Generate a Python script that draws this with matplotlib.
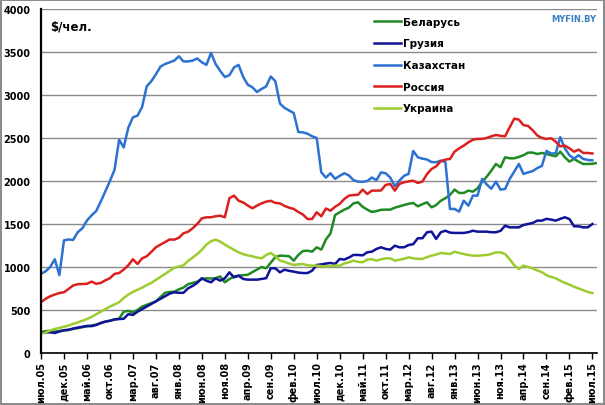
import numpy as np
import matplotlib
matplotlib.use("Agg")
from matplotlib import pyplot as plt

# x tick labels, every 5 months from Jul 2005
tick_labels = ["июл.05", "дек.05", "май.06", "окт.06", "мар.07", "авг.07", "янв.08",
               "июн.08", "ноя.08", "апр.09", "сен.09", "фев.10", "июл.10", "дек.10",
               "май.11", "окт.11", "мар.12", "авг.12", "янв.13", "июн.13", "ноя.13",
               "апр.14", "сен.14", "фев.15", "июл.15"]

# monthly average wage, $ per person
belarus = [240, 255, 258, 250, 255, 262, 268, 280, 290, 300, 310, 320, 330, 345, 365, 375,
           390, 400, 480, 490, 470, 500, 540, 560, 580, 600, 650, 700, 710, 712, 740, 760,
           800, 815, 830, 860, 868, 866, 870, 890, 822, 860, 890, 900, 905, 910, 940, 970,
           1000, 985, 1050, 1115, 1132, 1130, 1125, 1074, 1140, 1185, 1190, 1178, 1229, 1202,
           1320, 1390, 1605, 1636, 1667, 1690, 1740, 1752, 1700, 1667, 1640, 1650, 1665, 1667,
           1667, 1690, 1705, 1721, 1735, 1745, 1706, 1730, 1752, 1694, 1720, 1770, 1800, 1837,
           1900, 1861, 1861, 1888, 1876, 1915, 1990, 2050, 2120, 2198, 2160, 2276, 2264, 2264,
           2280, 2300, 2330, 2330, 2314, 2326, 2314, 2300, 2287, 2341, 2276, 2225, 2256, 2225,
           2198, 2198, 2200, 2210]
georgia = [240, 240, 240, 233, 250, 265, 270, 285, 295, 305, 315, 312, 325, 350, 365, 375,
           390, 395, 398, 452, 442, 480, 510, 540, 570, 600, 630, 660, 690, 706, 700, 700,
           752, 780, 815, 870, 840, 822, 868, 841, 868, 938, 880, 899, 861, 853, 853, 853,
           861, 870, 985, 985, 938, 969, 955, 946, 935, 930, 930, 957, 1024, 1030, 1040, 1047,
           1035, 1093, 1086, 1110, 1140, 1140, 1135, 1171, 1178, 1210, 1229, 1210, 1202, 1248,
           1229, 1229, 1256, 1265, 1334, 1334, 1404, 1411, 1326, 1404, 1422, 1400, 1396, 1396,
           1396, 1405, 1422, 1411, 1411, 1411, 1404, 1404, 1420, 1480, 1461, 1461, 1461, 1489,
           1500, 1512, 1539, 1539, 1560, 1551, 1539, 1560, 1578, 1558, 1473, 1473, 1461, 1461,
           1500]
kazakhstan = [920, 950, 1000, 1090, 905, 1310, 1320, 1315, 1405, 1450, 1540, 1600, 1650, 1760,
              1880, 2000, 2130, 2480, 2390, 2620, 2740, 2760, 2860, 3100, 3160, 3240, 3330, 3360,
              3380, 3400, 3450, 3390, 3390, 3400, 3425, 3380, 3350, 3490, 3360, 3280, 3210, 3230,
              3320, 3350, 3210, 3120, 3090, 3035, 3070, 3100, 3215, 3160, 2900, 2850, 2820, 2790,
              2570, 2565, 2550, 2520, 2500, 2100, 2040, 2090, 2025, 2060, 2090, 2065, 2010, 1993,
              1990, 2000, 2040, 2010, 2100, 2090, 2040, 1940, 2004, 2060, 2082, 2350, 2276, 2260,
              2250, 2220, 2218, 2237, 2220, 1675, 1675, 1644, 1771, 1713, 1830, 1830, 2024, 1960,
              1910, 1993, 1900, 1907, 2024, 2110, 2198, 2082, 2100, 2115, 2150, 2175, 2350, 2320,
              2320, 2510, 2380, 2300, 2260, 2300, 2256, 2245, 2240]
russia = [590, 630, 660, 680, 698, 706, 745, 785, 800, 802, 805, 830, 805, 815, 845, 870,
          920, 930, 970, 1020, 1090, 1035, 1100, 1125, 1175, 1229, 1260, 1290, 1320, 1318,
          1340, 1392, 1410, 1450, 1500, 1566, 1578, 1578, 1590, 1597, 1578, 1800, 1830, 1771,
          1750, 1715, 1683, 1713, 1740, 1760, 1770, 1745, 1740, 1710, 1690, 1675, 1640, 1610,
          1558, 1558, 1636, 1590, 1680, 1655, 1700, 1733, 1791, 1830, 1837, 1840, 1900, 1849,
          1888, 1888, 1890, 1954, 1966, 1888, 1966, 1985, 1995, 2004, 1977, 1993, 2080, 2140,
          2170, 2230, 2249, 2256, 2341, 2380, 2411, 2450, 2480, 2489, 2490, 2500, 2520, 2535,
          2525, 2520, 2625, 2725, 2713, 2650, 2640, 2590, 2530, 2500, 2489, 2497, 2458, 2403,
          2411, 2380, 2341, 2365, 2326, 2326, 2320]
ukraine = [221, 240, 262, 279, 292, 305, 320, 338, 356, 375, 395, 420, 450, 480, 510, 540,
           565, 590, 640, 680, 710, 735, 760, 790, 815, 850, 885, 920, 955, 990, 1005, 1020,
           1070, 1110, 1150, 1200, 1260, 1300, 1318, 1295, 1260, 1230, 1200, 1170, 1150, 1135,
           1125, 1110, 1100, 1140, 1163, 1125, 1074, 1060, 1040, 1024, 1030, 1035, 1020, 1016,
           1016, 1010, 1008, 1010, 1016, 1016, 1040, 1055, 1074, 1060, 1055, 1086, 1090, 1074,
           1090, 1101, 1101, 1074, 1085, 1095, 1113, 1101, 1095, 1093, 1115, 1132, 1145, 1163,
           1158, 1151, 1178, 1163, 1151, 1140, 1132, 1132, 1135, 1140, 1151, 1170, 1170, 1151,
           1090, 1020, 977, 1016, 1000, 985, 960, 940, 905, 885, 870, 841, 815, 795, 770, 750,
           730, 710, 698]

series = [
    ("Беларусь", belarus, "#1f8a24"),
    ("Грузия", georgia, "#10129a"),
    ("Казахстан", kazakhstan, "#2b72d2"),
    ("Россия", russia, "#dc1f1f"),
    ("Украина", ukraine, "#9ccc2e"),
]

fig = plt.figure(figsize=(6.05, 4.06), dpi=100)
fig.patch.set_edgecolor("#8c8c8c")
fig.patch.set_linewidth(1.5)
ax = fig.add_axes([41 / 605, 1 - 354 / 406, 556 / 605, 344 / 406])

for name, vals, color in series:
    ax.plot(np.arange(len(vals)), vals, color=color, lw=1.8, label=name)

ax.set_xlim(0, 121)
ax.set_ylim(0, 4000)
ax.set_yticks(range(0, 4001, 500))
ax.set_xticks(range(0, 121, 5))
ax.set_xticklabels(tick_labels, rotation=90, fontsize=7, fontweight="bold")
for lab in ax.get_yticklabels():
    lab.set_fontsize(7)
    lab.set_fontweight("bold")

ax.grid(axis="y", color="#8a8a8a", lw=1)
ax.set_axisbelow(True)
for s in ["top", "right"]:
    ax.spines[s].set_visible(False)
ax.spines["left"].set_linewidth(1.6)
ax.spines["bottom"].set_linewidth(1.2)
ax.tick_params(axis="y", length=0, pad=7.5)
ax.tick_params(axis="x", length=4, width=1, pad=2, direction="out")

ax.text(0.017, 0.95, "$/чел.", transform=ax.transAxes, fontsize=8.5,
        fontweight="bold", ha="left", va="center")

leg = ax.legend(loc="upper left", bbox_to_anchor=(0.585, 1.0), frameon=False,
                prop={"size": 7.5, "weight": "bold"}, handlelength=2.6,
                handletextpad=0.15, labelspacing=1.12, borderpad=0.25)

fig.text(0.985, 0.952, "MYFIN.BY", color="#3a7fc0", fontsize=6,
         fontweight="bold", ha="right", va="center")

fig.savefig("out.png", dpi=100)
